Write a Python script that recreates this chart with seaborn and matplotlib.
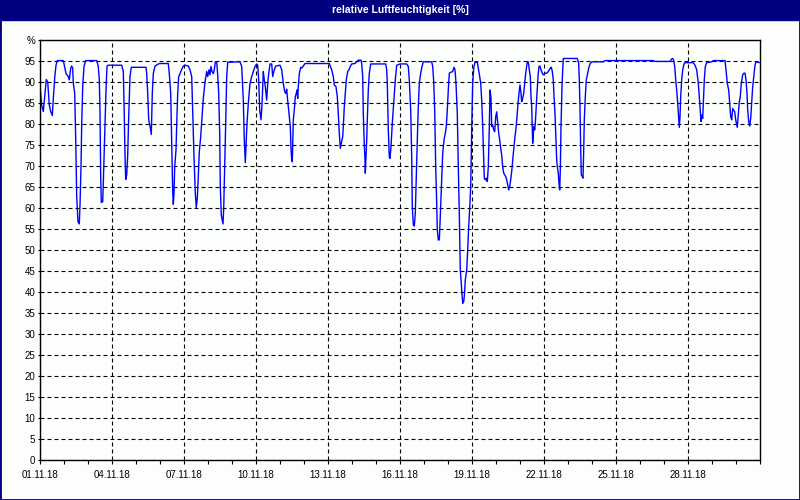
import pandas as pd
import matplotlib
matplotlib.use("Agg")
import matplotlib.pyplot as plt
import matplotlib.dates as mdates
from matplotlib.patches import Rectangle
import seaborn as sns

sns.set_style("white")
plt.rcParams["font.family"] = ["Liberation Sans", "DejaVu Sans"]

# hours since 01.11.18 00:00 and relative humidity (%)
hours_a = [0, 1.7, 3.3, 5, 6.3, 7.7, 8.3, 9.3, 10.7, 12.3, 13.3, 14.7, 16, 17.3, 23.3, 24.3, 26, 28.3, 29.3, 30.7,
           31.7, 32.7, 33.3, 34.7, 35.7, 36.7, 38, 39.3, 40, 41, 41.7, 42.7, 44, 45.7, 56.7, 58.3, 59.3, 60, 60.7, 61.3,
           62.7, 63.3, 65, 66, 67, 68.3, 81.7, 83.3, 84, 85, 85.7, 86.7, 87.7, 88.7, 90, 91.3, 106, 106.7, 107.7, 108.7,
           110, 111.3, 112.3, 113.3, 115, 118.3]
rh_a = [89, 84.5, 83, 87.3, 90.6, 90, 88, 84.5, 83, 82, 86, 91, 94, 95.1, 95.1, 94, 92, 91.3, 90.5, 93.3,
        93.8, 93.3, 89.7, 87.3, 76.6, 62.7, 56.7, 56.2, 60.7, 69.8, 79.8, 88.9, 93.7, 95.1, 95.1, 93.7, 90.5, 83, 67.5, 61.3,
        61.5, 65.9, 80.2, 88, 93.8, 94, 94, 92.5, 85.3, 72.6, 66.8, 67.9, 72.6, 81.7, 91.3, 93.5, 93.5, 92, 87.3, 81,
        79.5, 77.5, 87.3, 92, 93.8, 94.3]

hours_b = [120, 128.3, 129.3, 130.7, 131.7, 132.7, 133.3, 134, 134.7, 136, 136.7, 137.7, 138.7, 140, 141.7, 143.3, 145, 148.3, 150, 151.7,
           152.7, 154, 155.3, 156.3, 157.3, 158.3, 159.3, 160.7, 162, 163.3, 165, 166.7, 167.7, 169, 170, 171, 172, 173.3, 174.3, 175.3,
           176.7, 177.7, 178.7, 179.7, 180.3, 181.3, 182.3, 183, 183.7, 184.7, 185.7, 186.7, 187.7, 200, 201.7, 203.3, 204.3, 205.3, 206, 207,
           208.3, 210, 211.7, 213.3, 215, 216.7, 217.7, 218.7, 219.7, 221, 222, 223.3, 224.3, 225.3, 226.7, 227.7, 228.7, 230, 231.7, 232.7,
           234.3, 235.7]
rh_b = [94.4, 94.4, 92, 87.3, 75.4, 63.9, 60.9, 63.5, 69.8, 73.8, 79.8, 87.3, 91.3, 92, 93, 93.8, 94, 93.8, 92.9, 91.3,
        83.3, 72.2, 63.5, 60.1, 62.3, 67.5, 73.4, 77, 81.7, 86.1, 90, 92.5, 91.3, 92.9, 91.7, 93.7, 92.5, 92, 92.9, 94.8,
        94.8, 91.7, 87.3, 77.8, 65.1, 58.3, 57.1, 56.2, 59.9, 69.8, 80.2, 91.3, 94.7, 94.8, 93.7, 85.7, 76.2, 70.8, 74.6, 80.2,
        84.9, 89.7, 91.3, 92.5, 93.7, 94.3, 94, 90.5, 83.3, 81, 84.5, 92.5, 90.5, 88.9, 85.7, 89.7, 92, 94.3, 94.3, 91.3,
        92.9, 93.8]

hours_c = [240, 241.7, 243.3, 244.7, 245.7, 246.7, 247.3, 248.3, 249.3, 250.3, 251, 251.7, 252.3, 252.7, 253.3, 254.3, 255.3, 256.3, 257, 257.7,
           258.3, 259.3, 260.7, 261.7, 263.3, 265, 289.3, 291.7, 293.3, 294.3, 296, 297.3, 298.3, 299.3, 300.3, 301.3, 302.7, 303.3, 304.3, 305.3,
           306.3, 307.7, 309, 310.3, 311.7, 315, 316.7, 318.3, 321, 321.7, 322.7, 323.3, 324.3, 325, 325.3, 326, 326.7, 327.3, 328.3, 329.3,
           330.7, 345.7, 346.7, 347.3, 348.3, 349.3, 350, 351, 352.3, 353.7, 355.3, 356.7]
rh_c = [94, 92.9, 89.7, 87.7, 87.3, 88.3, 86.5, 84.1, 81.7, 79.4, 74.2, 71.4, 71, 74.6, 81, 83.3, 86.5, 87.3, 88.1, 86.1,
        88.9, 92, 93.5, 93.3, 93.8, 94.4, 94.4, 92.9, 91.3, 89.3, 88.9, 86.5, 82.5, 77.8, 74.2, 75.4, 77, 79.4, 84.1, 87.3,
        90.5, 92.5, 92.9, 93.7, 94.3, 94.4, 94.8, 95.2, 95.2, 94.4, 91.3, 82.5, 75, 71.4, 68.3, 72.2, 76.2, 81, 88.1, 92,
        94.3, 94.3, 92.9, 89.7, 78.6, 72.2, 71.8, 74.6, 80.2, 84.9, 90.5, 94]

hours_d = [360, 366.7, 368.3, 369.3, 370.7, 371.7, 372.3, 373.3, 374.3, 375.3, 376, 377.3, 378.3, 379.3, 380.7, 382, 383.3, 391.7, 392.7, 393.7,
           394.7, 395.7, 396.7, 397.3, 398.3, 399.3, 400, 401, 402, 402.7, 403.3, 404.3, 405.3, 406.3, 407.3, 408.3, 409.3, 410.7, 412.7, 414,
           415, 416, 417.3, 418.3, 419.3, 420.3, 421.7, 422.7, 423.7, 424.3, 425.3, 426.7, 427.7, 428.7, 429.7, 430.7, 431.3, 432, 432.7, 433.7,
           435, 437.3, 438.3, 439.7, 440.7, 441.7, 442.7, 443.7, 444.3, 445.3, 446.3, 447.3, 448.3, 449.3, 450, 451, 451.7, 452.7, 453.7, 454.7,
           455.7, 456.7, 457.7, 458.7, 459.7, 460.7, 461.7, 462.7, 463.7, 464.7, 465.7, 466.7, 467.7, 468.7, 469.7, 470.7, 472, 473, 474, 475,
           476, 477, 478, 479]
rh_d = [94.3, 94.3, 93.7, 90.5, 83.3, 72.2, 60.3, 56, 55.7, 58.7, 65.1, 76.2, 84.1, 89.7, 92.1, 93.7, 94.8, 94.8, 93.7, 90.1,
        83.3, 69.8, 61.1, 54.8, 52.4, 52.4, 56.3, 62.7, 69, 73, 74.6, 76.6, 77.8, 79.4, 83.3, 88.1, 92.1, 92.3, 92.5, 93.5,
        92.9, 89.7, 82.5, 69.8, 58.7, 45.2, 40.5, 37.3, 37.7, 38.9, 42.9, 45.2, 50, 55.6, 59.9, 65.1, 73, 82.5, 89.7, 93.3,
        94.7, 94.7, 93.3, 91.3, 89.7, 85.7, 79.4, 72.2, 67.1, 66.7, 67.1, 66.3, 69.8, 79, 88.1, 86.1, 79.4, 79.8, 78.6, 78.2,
        81.7, 82.9, 80.2, 77.8, 76.2, 74.2, 72.6, 69.8, 68.3, 67.9, 67.5, 66.7, 65.5, 64.3, 65.1, 66.7, 69.4, 72.2, 74.6, 77,
        79, 81.7, 84.9, 87.3]

hours_e = [480, 481, 481.7, 482.7, 483.7, 484.7, 485.7, 486.7, 487.3, 488.3, 489.3, 490.3, 491, 491.7, 492.3, 492.7, 493.3, 494, 494.7, 495.3,
           496, 497, 498, 499, 500, 501, 502.3, 503.3, 505, 506.7, 508.3, 509.3, 510.3, 511.3, 512.3, 513.3, 514, 515, 515.7, 516.7,
           517.3, 518.3, 519, 519.7, 520.3, 521, 522, 522.7, 523.3, 537.3, 538.7, 539.3, 540, 540.7, 541.3, 542.3, 543, 543.7, 544.3, 545.3,
           546.3, 547.7, 548.7, 550, 551.7, 563.3, 565]
rh_e = [89.3, 87.3, 85.3, 86.1, 87.3, 89.7, 92.1, 93.7, 94.8, 94.8, 92.9, 91.3, 86.5, 84.1, 79.4, 75.4, 77.8, 79.4, 78.6, 80.2,
        83.3, 87.3, 91.3, 93.7, 93.8, 92.9, 92.1, 91.7, 92.1, 92.1, 92.5, 92.9, 93.3, 93.5, 92.5, 90.5, 86.5, 82.5, 78.2, 71.4,
        69.8, 68.3, 65.9, 64.3, 69, 79.4, 88.9, 92.9, 95.6, 95.6, 94.4, 90.5, 84.1, 73.8, 67.9, 67.5, 67.1, 73.8, 81, 86.5,
        90.5, 92.1, 93.3, 94.3, 94.8, 94.8, 95.1]

hours_f = [600, 613.3, 615, 630, 631.7, 632.7, 633.7, 634.7, 635.7, 636.7, 637.7, 638.7, 639.3, 640, 640.7, 641.7, 642.7, 644, 645, 653.3,
           655, 656.7, 658.3, 659.3, 660.3, 661, 661.7, 662.7, 663.3, 664.3, 665.3, 666.7, 671.7, 673.3, 685, 686, 687.3, 688.7, 689.7, 690.7,
           691.7, 692.7, 693.7, 694.7, 695.7, 696.7, 697.3, 698.3, 699.3, 700.3, 701.3, 702.7, 704, 705, 706, 707, 707.7, 708.7, 709.7, 710.7,
           711.7, 712.7, 714, 715, 716, 719.3]
rh_f = [95.1, 95.1, 94.9, 94.9, 95.5, 95.6, 95.1, 93.7, 90.5, 88.1, 84.9, 81.3, 79.2, 81.7, 86.5, 90.5, 92.9, 94.3, 94.6, 94.6,
        94, 92.9, 89.7, 86.5, 82.9, 80.6, 82.1, 81.3, 84.9, 90.5, 93.7, 94.6, 94.8, 95.1, 95.1, 92.9, 89.7, 88.1, 84.9, 81.7,
        81, 83.7, 83.3, 82.9, 81, 79.8, 79.2, 82.1, 85.3, 86.5, 89.7, 91.7, 92.1, 92.1, 90.5, 87.3, 83.3, 80.6, 79.5, 81.3,
        84.9, 88.9, 91.7, 94, 94.8, 94.6]

major_days = ["2018-11-01", "2018-11-04", "2018-11-07", "2018-11-10", "2018-11-13",
              "2018-11-16", "2018-11-19", "2018-11-22", "2018-11-25", "2018-11-28"]
y_ticks = list(range(0, 100, 5))

hours = hours_a + hours_b + hours_c + hours_d + hours_e + hours_f
rh = rh_a + rh_b + rh_c + rh_d + rh_e + rh_f
start = pd.Timestamp("2018-11-01")
df = pd.DataFrame({"time": start + pd.to_timedelta(hours, unit="h"), "rh": rh})

fig = plt.figure(figsize=(8, 5), dpi=100)
fig.patch.set_facecolor("#FCFEFC")
ax = fig.add_axes([0.05, 0.08, 0.90, 0.84])
ax.set_facecolor("#FCFEFC")

sns.lineplot(data=df, x="time", y="rh", color="#0000FF", linewidth=1, estimator=None, ax=ax)

ax.set_xlim(start, pd.Timestamp("2018-12-01"))
ax.set_ylim(0, 100)
ax.set_xlabel("")
ax.set_ylabel("")

ax.xaxis.set_major_locator(matplotlib.ticker.FixedLocator(mdates.date2num(pd.to_datetime(major_days))))
ax.xaxis.set_major_formatter(mdates.DateFormatter("%d.%m.%y"))
ax.xaxis.set_minor_locator(mdates.DayLocator())
ax.set_yticks(y_ticks + [100])
ax.set_yticklabels([str(v) for v in y_ticks] + ["%"])

ax.tick_params(axis="x", which="both", bottom=True, direction="out", length=3, width=0.8,
               labelsize=7, pad=4, colors="black")
ax.tick_params(axis="y", which="both", left=True, direction="out", length=1.5, width=0.8,
               labelsize=7, pad=2, colors="black")

ax.grid(True, which="major", color="black", linestyle=(0, (3.6, 2.7)), linewidth=0.8)
for sp in ax.spines.values():
    sp.set_color("black")
    sp.set_linewidth(1)
    sp.set_visible(True)

# title bar and window frame
fig.patches.append(Rectangle((0, 0.96), 1, 0.04, transform=fig.transFigure, color="#000080", zorder=0))
fig.text(0.5, 0.98, "relative Luftfeuchtigkeit [%]", color="white", fontsize=7.5, fontweight="bold",
         ha="center", va="center")
fig.patches.append(Rectangle((0, 0), 1, 1, transform=fig.transFigure, fill=False,
                             edgecolor="#000080", linewidth=2))

fig.savefig("out.png", dpi=100, facecolor=fig.get_facecolor())
